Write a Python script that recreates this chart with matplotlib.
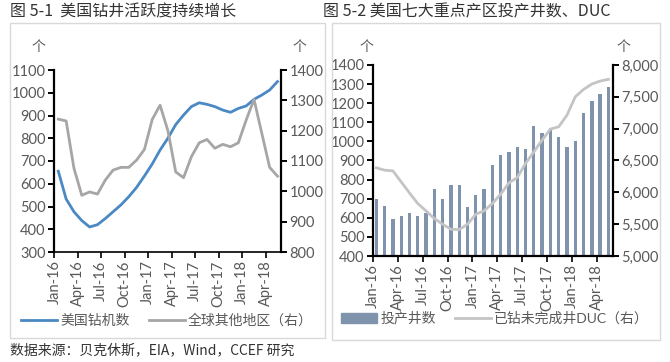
import matplotlib.pyplot as plt
from matplotlib.patches import Rectangle
from matplotlib.lines import Line2D
from matplotlib.ticker import FuncFormatter

plt.rcParams['font.family'] = ['Lato', 'Noto Sans CJK SC', 'DejaVu Sans']

months = ['Jan-16', 'Feb-16', 'Mar-16', 'Apr-16', 'May-16', 'Jun-16', 'Jul-16', 'Aug-16',
          'Sep-16', 'Oct-16', 'Nov-16', 'Dec-16', 'Jan-17', 'Feb-17', 'Mar-17', 'Apr-17',
          'May-17', 'Jun-17', 'Jul-17', 'Aug-17', 'Sep-17', 'Oct-17', 'Nov-17', 'Dec-17',
          'Jan-18', 'Feb-18', 'Mar-18', 'Apr-18', 'May-18']
us_rigs = [655, 533, 477, 438, 410, 420, 447, 477, 507, 543, 584, 634, 687, 748, 800,
           860, 902, 939, 956, 949, 939, 924, 914, 931, 942, 971, 990, 1012, 1049]
intl_rigs = [1238, 1232, 1076, 987, 998, 991, 1037, 1070, 1079, 1079, 1103, 1138, 1237,
             1284, 1200, 1064, 1045, 1114, 1160, 1171, 1142, 1155, 1147, 1160, 1235,
             1303, 1191, 1079, 1050]
new_wells = [697, 662, 596, 610, 627, 610, 627, 750, 701, 771, 771, 657, 718, 753, 876,
             928, 945, 972, 961, 1080, 1045, 1071, 1024, 972, 1003, 1147, 1211, 1248, 1286]
duc = [6385, 6348, 6337, 6164, 5991, 5824, 5708, 5588, 5499, 5420, 5415, 5499, 5656,
       5710, 5824, 5971, 6149, 6233, 6453, 6636, 6820, 6993, 7030, 7213, 7501, 7617,
       7701, 7748, 7775]

blue = '#4a89c3'
gray = '#a6a6a6'
bar_c = '#8093ad'
duc_c = '#c4c4c4'
txt = '#595959'

x = list(range(len(months)))
tick_pos = x[::3]
tick_lab = months[::3]

fig = plt.figure(figsize=(6.7, 3.62), dpi=100)

# panel frames
fig.patches.append(Rectangle((10/670, 1-338/362), 315/670, 315/362, transform=fig.transFigure,
                             fill=False, ec='#d9d9d9', lw=1))
fig.patches.append(Rectangle((332/670, 1-340/362), 328/670, 317/362, transform=fig.transFigure,
                             fill=False, ec='#d9d9d9', lw=1))

fig.text(10/670, 1-12/362, '图 5-1  美国钻井活跃度持续增长', fontsize=11.5, color='#333333',
         va='center', family=['Noto Sans CJK SC'])
fig.text(323/670, 1-12/362, '图 5-2 美国七大重点产区投产井数、DUC', fontsize=11.5, color='#333333',
         va='center', family=['Noto Sans CJK SC'])
fig.text(10/670, 1-350/362, '数据来源：贝克休斯，EIA，Wind，CCEF 研究', fontsize=10, color='#333333',
         va='center', family=['Noto Sans CJK SC', 'DejaVu Sans'])


def style(ax, side):
    for s in ['top', 'left', 'right', 'bottom']:
        ax.spines[s].set_visible(False)
    ax.spines[side].set_visible(True)
    ax.spines[side].set_linewidth(1.6)
    ax.spines[side].set_color('black')
    ax.tick_params(axis='y', direction='out', length=4, width=1.4, labelsize=10.5,
                   labelcolor=txt, color='black', pad=2)


# ---- left chart ----
ax1 = fig.add_axes([54/670, 1-252/362, 227/670, 182/362])
ax2 = ax1.twinx()
ax1.plot(x, us_rigs, color=blue, lw=2)
ax2.plot(x, intl_rigs, color=gray, lw=2)
ax1.set_ylim(300, 1100)
ax1.set_yticks(range(300, 1101, 100))
ax2.set_ylim(800, 1400)
ax2.set_yticks(range(800, 1401, 100))
ax1.set_xlim(-0.55, 28.45)
ax1.set_xticks([p - 0.5 for p in tick_pos])
ax1.set_xticklabels(tick_lab, rotation=90)
style(ax1, 'left')
style(ax2, 'right')
ax1.spines['bottom'].set_visible(True)
ax1.spines['bottom'].set_linewidth(1.2)
ax1.tick_params(axis='x', direction='out', length=4, width=1.2, labelsize=10.5,
                labelcolor=txt, pad=2)
fig.text(38/670, 1-47/362, '个', fontsize=10, color=txt, ha='center', va='center')
fig.text(299/670, 1-47/362, '个', fontsize=10, color=txt, ha='center', va='center')
h1 = [Line2D([], [], color=blue, lw=2), Line2D([], [], color=gray, lw=2)]
fig.legend(h1, ['美国钻机数', '全球其他地区（右）'], loc='center', bbox_to_anchor=(167/670, 1-320/362),
           ncol=2, frameon=False, fontsize=10, labelcolor=txt, handlelength=2.6,
           handletextpad=0.2, columnspacing=1.4)

# ---- right chart ----
ax3 = fig.add_axes([373/670, 1-256/362, 240/670, 191/362])
ax4 = ax3.twinx()
ax3.bar(x, new_wells, width=0.4, color=bar_c)
ax4.plot(x, duc, color=duc_c, lw=2)
ax3.set_ylim(400, 1400)
ax3.set_yticks(range(400, 1401, 100))
ax4.set_ylim(5000, 8000)
ax4.set_yticks(range(5000, 8001, 500))
ax4.yaxis.set_major_formatter(FuncFormatter(lambda v, p: f'{int(v):,}'))
ax3.set_xlim(-0.4, 28.55)
ax3.set_xticks([p - 0.4 for p in tick_pos])
ax3.set_xticklabels(tick_lab, rotation=90)
style(ax3, 'left')
style(ax4, 'right')
ax3.spines['bottom'].set_visible(True)
ax3.spines['bottom'].set_linewidth(1.6)
ax3.tick_params(axis='x', direction='out', length=4, width=1.2, labelsize=10.5,
                labelcolor=txt, pad=2)
fig.text(366/670, 1-47/362, '个', fontsize=10, color=txt, ha='center', va='center')
fig.text(623/670, 1-47/362, '个', fontsize=10, color=txt, ha='center', va='center')
h2 = [Rectangle((0, 0), 1, 1, color=bar_c), Line2D([], [], color=duc_c, lw=2)]
fig.legend(h2, ['投产井数', '已钻未完成井DUC（右）'], loc='center', bbox_to_anchor=(495/670, 1-318/362),
           ncol=2, frameon=False, fontsize=10, labelcolor=txt, handlelength=2.6,
           handletextpad=0.2, columnspacing=1.4)

fig.savefig('out.png', dpi=100)
